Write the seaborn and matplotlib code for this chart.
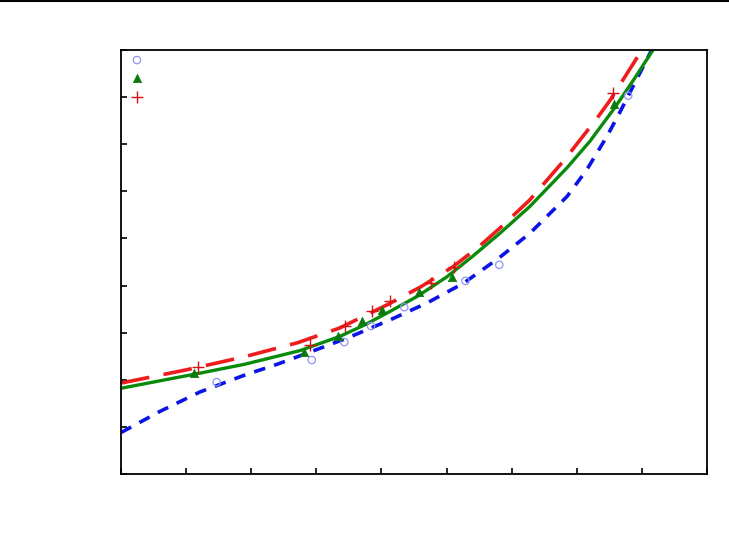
import numpy as np
import pandas as pd
import matplotlib
matplotlib.use("Agg")
import matplotlib.pyplot as plt
import seaborn as sns
from matplotlib.lines import Line2D

# measured points
circ_x = [1.47, 2.93, 3.43, 3.84, 4.35, 5.29, 5.81, 7.79]
circ_y = [1.95, 2.42, 2.80, 3.14, 3.54, 4.10, 4.44, 8.03]
tri_x = [1.12, 2.81, 3.33, 3.70, 4.01, 4.58, 5.08, 7.57]
tri_y = [2.14, 2.59, 2.93, 3.25, 3.48, 3.86, 4.18, 7.86]
plus_x = [1.18, 2.90, 3.44, 3.86, 4.13, 4.76, 5.11, 7.56]
plus_y = [2.27, 2.74, 3.14, 3.46, 3.67, 4.06, 4.39, 8.09]

# fitted curves
green_x = [0.0, 1.21, 1.90, 2.75, 3.36, 3.75, 4.13, 4.55, 5.0, 5.4, 5.82,
           6.28, 6.85, 7.2, 7.57, 7.88, 8.17]
green_y = [1.82, 2.14, 2.33, 2.62, 2.92, 3.17, 3.45, 3.77, 4.18, 4.62, 5.11,
           5.68, 6.50, 7.06, 7.75, 8.38, 9.0]
red_x = [0.0, 1.0, 1.9, 2.72, 3.36, 4.10, 4.6, 5.10, 5.5, 5.82, 6.28, 6.8,
         7.31, 7.51, 8.0]
red_y = [1.93, 2.21, 2.49, 2.79, 3.10, 3.60, 3.97, 4.40, 4.83, 5.22, 5.82,
         6.65, 7.55, 7.93, 9.0]
blue_x = [0.0, 0.6, 1.21, 1.9, 2.4, 2.85, 3.5, 4.13, 4.7, 5.26, 5.8, 6.28,
          6.85, 7.15, 7.46, 7.64, 8.15]
blue_y = [0.88, 1.33, 1.74, 2.10, 2.33, 2.56, 2.90, 3.27, 3.63, 4.05, 4.58,
          5.11, 5.89, 6.45, 7.16, 7.62, 9.0]

series_labels = ["Data 1", "Data 2", "Data 3"]
x_ticks = list(range(0, 10))
y_ticks = list(range(0, 10))

sns.set_theme(style="white")
plt.rcParams["font.family"] = ["DejaVu Sans"]

fig = plt.figure(figsize=(7.29, 5.33), dpi=100)
ax = fig.add_axes([121 / 729, 59 / 533, 586 / 729, 424 / 533])

df_g = pd.DataFrame({"x": green_x, "y": green_y})
df_r = pd.DataFrame({"x": red_x, "y": red_y})
df_b = pd.DataFrame({"x": blue_x, "y": blue_y})

sns.lineplot(data=df_b, x="x", y="y", ax=ax, color="#0a14e6", lw=2.6,
             sort=False, estimator=None)
ax.lines[-1].set_dashes([3.2, 2.6])
sns.lineplot(data=df_r, x="x", y="y", ax=ax, color="#ee1c1c", lw=2.6,
             sort=False, estimator=None)
ax.lines[-1].set_dashes([8, 4])
sns.lineplot(data=df_g, x="x", y="y", ax=ax, color="#0a8a0a", lw=2.4,
             sort=False, estimator=None)
for ln in ax.lines:
    ln.set_solid_joinstyle("round")
    ln.set_dash_joinstyle("round")

sns.scatterplot(x=circ_x, y=circ_y, ax=ax, marker="o", s=28,
                facecolor="none", edgecolor="#8f94f5", linewidth=0.9,
                label=series_labels[0], zorder=5)
sns.scatterplot(x=tri_x, y=tri_y, ax=ax, marker="^", s=36,
                color="#0a7a0a", edgecolor="#0a7a0a", linewidth=0.5,
                label=series_labels[1], zorder=5)
sns.scatterplot(x=plus_x, y=plus_y, ax=ax, marker="+", s=80,
                color="#d41414", linewidth=1.0,
                label=series_labels[2], zorder=5)

ax.set_xlim(0, 9)
ax.set_ylim(0, 9)
ax.set_xticks(x_ticks)
ax.set_yticks(y_ticks)
ax.tick_params(axis="both", direction="in", length=4, width=1.2,
               colors="black", labelcolor="white", labelsize=9,
               bottom=True, left=True, top=False, right=False)
ax.set_xlabel("")
ax.set_ylabel("")
for sp in ax.spines.values():
    sp.set_color("black")
    sp.set_linewidth(1.3)

leg = ax.legend(loc="upper left", bbox_to_anchor=(0.008, 0.998),
                frameon=False, fontsize=9, borderaxespad=0, borderpad=0.2,
                handlelength=1.4, handletextpad=0.4, labelspacing=0.43)
for t in leg.get_texts():
    t.set_color("white")

fig.add_artist(Line2D([0, 1], [0.999, 0.999], color="black", lw=1.5,
                      transform=fig.transFigure))

fig.savefig("out.png", dpi=100, facecolor="white")
